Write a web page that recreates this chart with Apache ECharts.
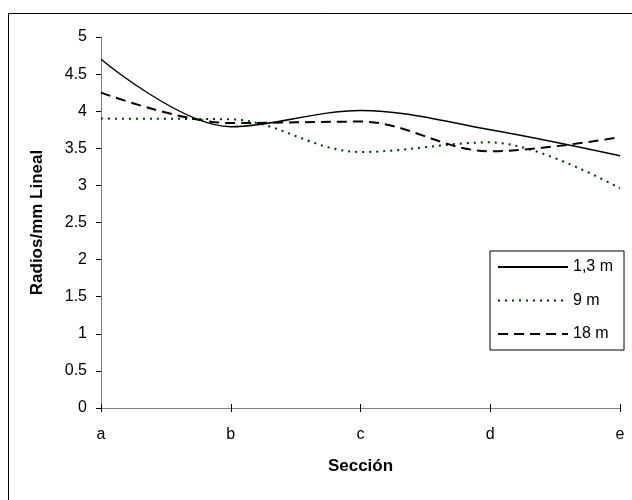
<!DOCTYPE html>
<html><head><meta charset="utf-8">
<script src="https://cdn.jsdelivr.net/npm/echarts@6/dist/echarts.min.js"></script>
<style>html,body{margin:0;padding:0;background:#fff}#c{width:632px;height:500px}</style>
</head><body><div id="c"></div>
<script>
const categories = ['a','b','c','d','e'];
const s13 = [4.70, 3.79, 4.01, 3.75, 3.40];
const s9 = [3.90, 3.89, 3.45, 3.58, 2.96];
const s18 = [4.25, 3.84, 3.86, 3.46, 3.65];
const yTicks = [0, 0.5, 1, 1.5, 2, 2.5, 3, 3.5, 4, 4.5, 5];

const font = 'Liberation Sans, Arial, sans-serif';
const chart = echarts.init(document.getElementById('c'), null, {renderer:'canvas'});
chart.setOption({
  animation: false,
  backgroundColor: '#fff',
  graphic: [{type:'rect', shape:{x:8.5,y:13.5,width:640,height:500}, style:{fill:'none', stroke:'#000', lineWidth:1}, silent:true}],
  grid: {left:101, right:12, top:37, bottom:92},
  legend: {
    orient:'vertical', left:490, top:251,
    itemWidth:70, itemHeight:16, itemGap:17.5,
    padding:[8,11,8,7],
    borderColor:'#000', borderWidth:1, backgroundColor:'#fff',
    itemStyle:{opacity:0},
    textStyle:{fontFamily:font, fontSize:16, color:'#000'},
    data:['1,3 m','9 m','18 m']
  },
  xAxis: [{
    type:'category', data:categories, boundaryGap:false,
    name:'Sección', nameLocation:'middle', nameGap:50,
    nameTextStyle:{fontFamily:font, fontSize:17, fontWeight:'bold', color:'#000'},
    axisLine:{lineStyle:{color:'#808080', width:1}},
    axisTick:{show:true, length:4, lineStyle:{color:'#000'}},
    axisLabel:{fontFamily:font, fontSize:16, color:'#000', margin:19}
  },{
    type:'category', data:categories, boundaryGap:false, position:'bottom',
    axisLine:{show:false}, axisLabel:{show:false},
    axisTick:{show:true, inside:true, length:4, lineStyle:{color:'#000'}}
  }],
  yAxis: {
    type:'value', min:0, max:5, interval:0.5,
    name:'Radios/mm Lineal', nameLocation:'middle', nameGap:55, nameRotate:90,
    nameTextStyle:{fontFamily:font, fontSize:17, fontWeight:'bold', color:'#000'},
    axisLine:{show:true, lineStyle:{color:'#808080', width:1}},
    axisTick:{show:true, length:5, lineStyle:{color:'#000'}},
    axisLabel:{fontFamily:font, fontSize:16, color:'#000', margin:14,
      formatter: v => yTicks.includes(v) ? String(v) : ''},
    splitLine:{show:false}
  },
  series: [
    {name:'1,3 m', type:'line', data:s13, smooth:0.35, symbol:'none', color:'#000',
     lineStyle:{color:'#000', width:1.4, type:'solid'}},
    {name:'9 m', type:'line', data:s9, smooth:0.35, symbol:'none', color:'#003300',
     lineStyle:{color:'#003300', width:2, type:[2,5]}},
    {name:'18 m', type:'line', data:s18, smooth:0.35, symbol:'none', color:'#000',
     lineStyle:{color:'#000', width:2, type:[10,6]}}
  ]
});
</script></body></html>
